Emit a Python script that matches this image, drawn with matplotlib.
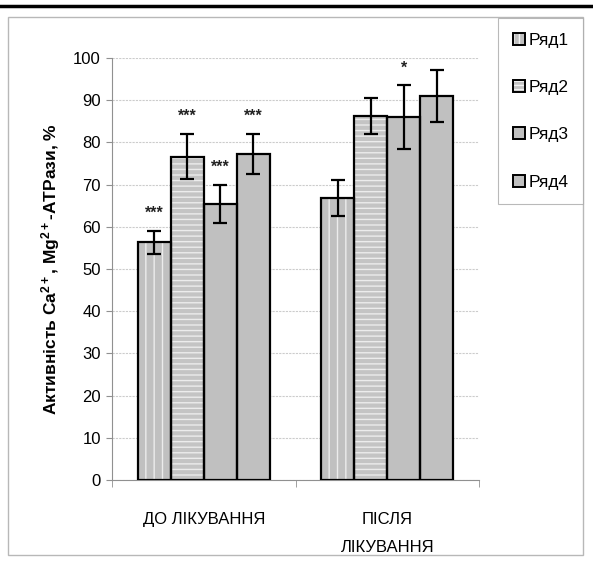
import numpy as np
import matplotlib.pyplot as plt
from matplotlib.patches import Rectangle, Patch
from matplotlib.lines import Line2D

plt.rcParams['font.family'] = ['Liberation Sans', 'DejaVu Sans']
plt.rcParams['mathtext.default'] = 'regular'
plt.rcParams['hatch.linewidth'] = 1.0

categories = ['ДО ЛІКУВАННЯ', 'ПІСЛЯ\nЛІКУВАННЯ']
series = ['Ряд1', 'Ряд2', 'Ряд3', 'Ряд4']
values = {
    'Ряд1': [56.3, 66.8],
    'Ряд2': [76.6, 86.2],
    'Ряд3': [65.5, 86.0],
    'Ряд4': [77.2, 91.0],
}
errors = {
    'Ряд1': [2.8, 4.2],
    'Ряд2': [5.3, 4.3],
    'Ряд3': [4.5, 7.5],
    'Ряд4': [4.8, 6.1],
}
stars = {
    'Ряд1': ['***', ''],
    'Ряд2': ['***', ''],
    'Ряд3': ['***', '*'],
    'Ряд4': ['***', ''],
}

hatches = {'Ряд1': '||', 'Ряд2': '---', 'Ряд3': None, 'Ряд4': None}
faces = {'Ряд1': '#c0c0c0', 'Ряд2': '#c4c4c4', 'Ряд3': '#c0c0c0', 'Ряд4': '#c0c0c0'}
hatch_col = '#ececec'

fig = plt.figure(figsize=(5.93, 5.67), dpi=100)
ax = fig.add_axes([112 / 593, 1 - 480 / 567, 367 / 593, 422 / 567])

# outer frame and top rule
fig.patches.append(Rectangle((8 / 593, 1 - 555 / 567), 575 / 593, 538 / 567,
                             transform=fig.transFigure, fill=False,
                             edgecolor='#b8b8b8', lw=1))
fig.lines.append(Line2D([0, 1], [1 - 6 / 567, 1 - 6 / 567], transform=fig.transFigure,
                        color='black', lw=2.5))

x = np.arange(len(categories))
w = 0.18
for k, s in enumerate(series):
    pos = x - 1.5 * w + k * w
    if hatches[s]:
        ax.bar(pos, values[s], w, color=faces[s], hatch=hatches[s],
               edgecolor=hatch_col, lw=0, zorder=2)
    else:
        ax.bar(pos, values[s], w, color=faces[s], lw=0, zorder=2)
    ax.bar(pos, values[s], w, fill=False, edgecolor='black', lw=1.6, zorder=3)
    ax.errorbar(pos, values[s], yerr=errors[s], fmt='none', ecolor='black',
                elinewidth=1.6, capsize=5, capthick=1.6, zorder=4)
    for p, v, e, st in zip(pos, values[s], errors[s], stars[s]):
        if st:
            ax.text(p, v + e + 2.4, st, ha='center', va='bottom', fontsize=11.5,
                    fontweight='bold', color='#222222')

ax.set_xlim(-0.5, 1.5)
ax.set_ylim(0, 100)
ax.set_yticks(np.arange(0, 101, 10))
ax.tick_params(axis='y', labelsize=12, length=4, color='#909090', pad=4)
ax.set_xticks([-0.5, 0.5, 1.5], minor=True)
ax.set_xticks(x)
ax.set_xticklabels(categories, fontsize=12, linespacing=2.1)
ax.tick_params(axis='x', which='major', length=0, pad=23)
ax.tick_params(axis='x', which='minor', length=5, color='#909090', direction='out')

ax.grid(axis='y', color='#cccccc', lw=0.8, ls=(0, (2, 1)), zorder=0)
for sp in ['top', 'right']:
    ax.spines[sp].set_visible(False)
ax.spines['left'].set_color('#909090')
ax.spines['bottom'].set_color('#909090')

ax.set_ylabel('Активність Ca$^{2+}$, Mg$^{2+}$-АТРази, %', fontsize=12.5,
              fontweight='bold', labelpad=8)

leg_hatch = {'Ряд1': '|||', 'Ряд2': '----', 'Ряд3': None, 'Ряд4': None}
handles = []
for s in series:
    fill = Patch(facecolor=faces[s], hatch=leg_hatch[s], edgecolor='#f4f4f4', lw=0)
    edge = Patch(fill=False, edgecolor='black', lw=1.4)
    handles.append((fill, edge))
leg = fig.legend(handles, series, loc='upper left',
                 bbox_to_anchor=(498 / 593, 1 - 18 / 567), fontsize=12.5,
                 handlelength=0.7, handleheight=0.7, handletextpad=0.2,
                 labelspacing=1.85, borderpad=0.85, borderaxespad=0,
                 frameon=True, fancybox=False, edgecolor='#a8a8a8')
leg.get_frame().set_linewidth(0.8)

fig.savefig('out.png', dpi=100)
